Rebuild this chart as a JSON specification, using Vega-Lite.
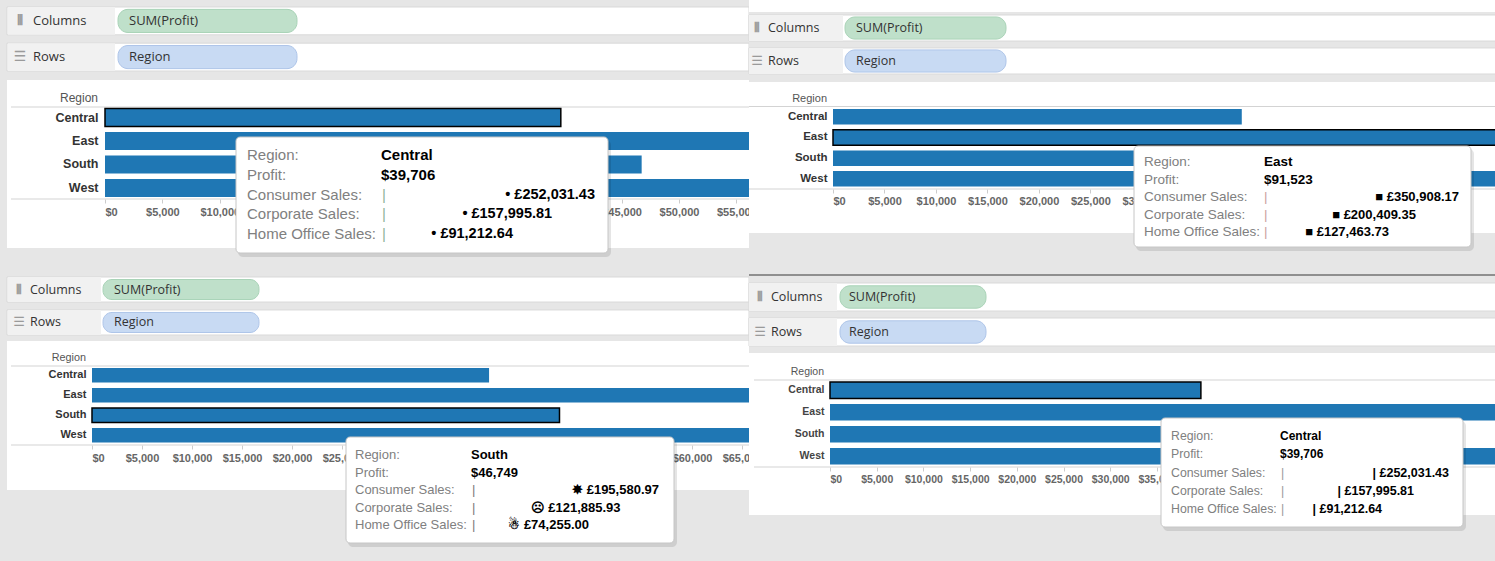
{
"$schema": "https://vega.github.io/schema/vega-lite/v6.json",
"background": "#e6e6e6",
"padding": {"left": 6, "right": 0, "top": 0, "bottom": 0},
"config": {"view": {"stroke": null}, "concat": {"spacing": 0}},
"datasets": {
 "profit": [
  {"region": "Central", "profit": 39706.36},
  {"region": "East", "profit": 91522.78},
  {"region": "South", "profit": 46749.43},
  {"region": "West", "profit": 108418.45}
 ],
 "shelves": [
  {"shelf": "Columns", "pill": "SUM(Profit)", "icon": "⦀"},
  {"shelf": "Rows", "pill": "Region", "icon": "☰"}
 ],
 "tips": [
  {"panel": 1, "label": "Region:", "value": "Central"},
  {"panel": 1, "label": "Profit:", "value": "$39,706"},
  {"panel": 1, "label": "Consumer Sales:", "sales": 252031.43, "text": "• £252,031.43"},
  {"panel": 1, "label": "Corporate Sales:", "sales": 157995.81, "text": "• £157,995.81"},
  {"panel": 1, "label": "Home Office Sales:", "sales": 91212.64, "text": "• £91,212.64"},
  {"panel": 2, "label": "Region:", "value": "East"},
  {"panel": 2, "label": "Profit:", "value": "$91,523"},
  {"panel": 2, "label": "Consumer Sales:", "sales": 350908.17, "text": "■ £350,908.17"},
  {"panel": 2, "label": "Corporate Sales:", "sales": 200409.35, "text": "■ £200,409.35"},
  {"panel": 2, "label": "Home Office Sales:", "sales": 127463.73, "text": "■ £127,463.73"},
  {"panel": 3, "label": "Region:", "value": "South"},
  {"panel": 3, "label": "Profit:", "value": "$46,749"},
  {"panel": 3, "label": "Consumer Sales:", "sales": 195580.97, "text": "✸ £195,580.97"},
  {"panel": 3, "label": "Corporate Sales:", "sales": 121885.93, "text": "☹ £121,885.93"},
  {"panel": 3, "label": "Home Office Sales:", "sales": 74255.00, "text": "☃ £74,255.00"},
  {"panel": 4, "label": "Region:", "value": "Central"},
  {"panel": 4, "label": "Profit:", "value": "$39,706"},
  {"panel": 4, "label": "Consumer Sales:", "sales": 252031.43, "text": "| £252,031.43"},
  {"panel": 4, "label": "Corporate Sales:", "sales": 157995.81, "text": "| £157,995.81"},
  {"panel": 4, "label": "Home Office Sales:", "sales": 91212.64, "text": "| £91,212.64"}
 ]
},
"columns": 2,
"spacing": 0,
"bounds": "flush",
"concat": [
{
"width": 742, "height": 276,
"view": {"fill": "#ffffff", "stroke": null},
"resolve": {"scale": {"x": "independent", "y": "independent"}},
"layer": [
 {"data": {"values": [{}]}, "layer": [
  {"mark": {"type": "rect", "color": "#e6e6e6"}, "encoding": {
   "x": {"datum": 0, "type": "quantitative", "scale": {"domain": [0, 742], "range": [0, 742], "nice": false, "zero": false}, "axis": null}, "x2": {"datum": 742},
   "y": {"datum": 0, "type": "quantitative", "scale": {"domain": [0, 276], "range": [0, 276], "nice": false, "zero": false}, "axis": null}, "y2": {"datum": 80}}},
  {"mark": {"type": "rect", "color": "#e6e6e6"}, "encoding": {
   "x": {"datum": 0, "type": "quantitative", "scale": {"domain": [0, 742], "range": [0, 742], "nice": false, "zero": false}, "axis": null}, "x2": {"datum": 742},
   "y": {"datum": 248, "type": "quantitative", "scale": {"domain": [0, 276], "range": [0, 276], "nice": false, "zero": false}, "axis": null}, "y2": {"datum": 276}}},
  {"mark": {"type": "rule", "color": "#d3d3d3"}, "encoding": {
   "x": {"datum": 4, "type": "quantitative", "scale": {"domain": [0, 742], "range": [0, 742], "nice": false, "zero": false}, "axis": null}, "x2": {"datum": 742},
   "y": {"datum": 107, "type": "quantitative", "scale": {"domain": [0, 276], "range": [0, 276], "nice": false, "zero": false}, "axis": null}}},
  {"mark": {"type": "rule", "color": "#d3d3d3"}, "encoding": {
   "x": {"datum": 4, "type": "quantitative", "scale": {"domain": [0, 742], "range": [0, 742], "nice": false, "zero": false}, "axis": null}, "x2": {"datum": 742},
   "y": {"datum": 199, "type": "quantitative", "scale": {"domain": [0, 276], "range": [0, 276], "nice": false, "zero": false}, "axis": null}}},
  {"mark": {"type": "text", "text": "Region", "align": "right", "baseline": "middle", "font": "Liberation Sans", "fontSize": 12, "color": "#555555"}, "encoding": {
   "x": {"datum": 91, "type": "quantitative", "scale": {"domain": [0, 742], "range": [0, 742], "nice": false, "zero": false}, "axis": null},
   "y": {"datum": 98, "type": "quantitative", "scale": {"domain": [0, 276], "range": [0, 276], "nice": false, "zero": false}, "axis": null}}}
 ]},
 {"data": {"name": "shelves"},
  "encoding": {"y": {"field": "shelf", "type": "nominal", "scale": {"domain": ["Columns", "Rows"], "range": [7, 71], "paddingInner": 0.23, "paddingOuter": 0}, "axis": null}},
  "layer": [
  {"mark": {"type": "rect", "color": "#ffffff", "stroke": "#d9d9d9", "strokeWidth": 1}, "encoding": {
   "x": {"datum": 0, "type": "quantitative", "scale": {"domain": [0, 742], "range": [0, 742], "nice": false, "zero": false}, "axis": null}, "x2": {"datum": 742}}},
  {"mark": {"type": "rect", "color": "#f1f1f1"}, "encoding": {
   "x": {"datum": 1, "type": "quantitative", "scale": {"domain": [0, 742], "range": [0, 742], "nice": false, "zero": false}, "axis": null}, "x2": {"datum": 108}}},
  {"mark": {"type": "bar", "height": {"band": 0.83}, "cornerRadius": 10, "strokeWidth": 1}, "encoding": {
   "x": {"datum": 111, "type": "quantitative", "scale": {"domain": [0, 742], "range": [0, 742], "nice": false, "zero": false}, "axis": null}, "x2": {"datum": 290},
   "fill": {"field": "shelf", "type": "nominal", "scale": {"domain": ["Columns", "Rows"], "range": ["#bfe0ca", "#c8daf3"]}, "legend": null},
   "stroke": {"field": "shelf", "type": "nominal", "scale": {"domain": ["Columns", "Rows"], "range": ["#a9d3b7", "#aec5e9"]}, "legend": null}}},
  {"mark": {"type": "text", "align": "left", "baseline": "middle", "font": "Open Sans", "fontSize": 13, "color": "#333333"}, "encoding": {
   "x": {"datum": 122, "type": "quantitative", "scale": {"domain": [0, 742], "range": [0, 742], "nice": false, "zero": false}, "axis": null},
   "text": {"field": "pill", "type": "nominal"}}},
  {"mark": {"type": "text", "align": "left", "baseline": "middle", "font": "Open Sans", "fontSize": 13, "color": "#333333"}, "encoding": {
   "x": {"datum": 26, "type": "quantitative", "scale": {"domain": [0, 742], "range": [0, 742], "nice": false, "zero": false}, "axis": null},
   "text": {"field": "shelf", "type": "nominal"}}},
  {"mark": {"type": "text", "align": "center", "baseline": "middle", "font": "DejaVu Sans", "fontSize": 14, "fontWeight": "bold", "color": "#9a9a9a"}, "encoding": {
   "x": {"datum": 13, "type": "quantitative", "scale": {"domain": [0, 742], "range": [0, 742], "nice": false, "zero": false}, "axis": null},
   "text": {"field": "icon", "type": "nominal"}}}
 ]},
 {"data": {"name": "profit"},
  "mark": {"type": "bar", "clip": true, "color": "#1f77b4", "strokeWidth": 1.5},
  "encoding": {
   "y": {"field": "region", "type": "nominal", "scale": {"domain": ["Central", "East", "South", "West"], "range": [108.5, 197], "paddingInner": 0.234, "paddingOuter": 0},
    "axis": {"orient": "left", "offset": -91, "domain": false, "ticks": false, "tickSize": 0, "labelPadding": 0, "title": null, "grid": false, "labelFont": "Liberation Sans", "labelFontSize": 12.5, "labelFontWeight": "bold", "labelColor": "#333333"}},
   "x": {"field": "profit", "type": "quantitative", "scale": {"domain": [0, 56100], "range": [98, 742], "nice": false, "zero": true, "clamp": true},
    "axis": {"orient": "bottom", "offset": -77, "values": [0, 5000, 10000, 45000, 50000, 55000], "format": "$,d", "domain": false, "ticks": true, "tickSize": 4, "tickColor": "#cccccc", "labelPadding": 3, "labelFont": "Liberation Sans", "labelFontSize": 11, "labelFontWeight": "bold", "labelColor": "#666666", "labelFlush": true, "labelOverlap": false, "grid": false, "title": null}},
   "stroke": {"condition": {"test": "datum.region === 'Central'", "value": "#000000"}, "value": "transparent"}
  }},
 {"data": {"values": [{}]}, "layer": [
  {"mark": {"type": "rect", "color": "#000000", "opacity": 0.1, "cornerRadius": 5}, "encoding": {
   "x": {"datum": 231, "type": "quantitative", "scale": {"domain": [0, 742], "range": [0, 742], "nice": false, "zero": false}, "axis": null}, "x2": {"datum": 604},
   "y": {"datum": 140, "type": "quantitative", "scale": {"domain": [0, 276], "range": [0, 276], "nice": false, "zero": false}, "axis": null}, "y2": {"datum": 257}}},
  {"mark": {"type": "rect", "color": "#ffffff", "stroke": "#c6c6c6", "strokeWidth": 1, "cornerRadius": 4}, "encoding": {
   "x": {"datum": 229, "type": "quantitative", "scale": {"domain": [0, 742], "range": [0, 742], "nice": false, "zero": false}, "axis": null}, "x2": {"datum": 601},
   "y": {"datum": 137, "type": "quantitative", "scale": {"domain": [0, 276], "range": [0, 276], "nice": false, "zero": false}, "axis": null}, "y2": {"datum": 253}}}
 ]},
 {"data": {"name": "tips"}, "transform": [{"filter": "datum.panel === 1"}],
  "encoding": {"y": {"field": "label", "type": "nominal", "scale": {"type": "point", "domain": ["Region:", "Profit:", "Consumer Sales:", "Corporate Sales:", "Home Office Sales:"], "range": [155, 234], "padding": 0}, "axis": null}},
  "layer": [
  {"mark": {"type": "text", "align": "left", "baseline": "middle", "font": "Liberation Sans", "fontSize": 15, "color": "#808080"}, "encoding": {
   "x": {"datum": 240, "type": "quantitative", "scale": {"domain": [0, 742], "range": [0, 742], "nice": false, "zero": false}, "axis": null},
   "text": {"field": "label", "type": "nominal"}}},
  {"transform": [{"filter": "isValid(datum.value)"}], "mark": {"type": "text", "align": "left", "baseline": "middle", "font": "Liberation Sans", "fontSize": 15, "fontWeight": "bold", "color": "#000000"}, "encoding": {
   "x": {"datum": 374, "type": "quantitative", "scale": {"domain": [0, 742], "range": [0, 742], "nice": false, "zero": false}, "axis": null},
   "text": {"field": "value", "type": "nominal"}}},
  {"transform": [{"filter": "isValid(datum.sales)"}], "mark": {"type": "text", "text": "|", "align": "left", "baseline": "middle", "font": "Liberation Sans", "fontSize": 15, "color": "#8fb39a"}, "encoding": {
   "x": {"datum": 375, "type": "quantitative", "scale": {"domain": [0, 742], "range": [0, 742], "nice": false, "zero": false}, "axis": null}}}
 ]},
 {"data": {"name": "tips"}, "transform": [{"filter": "datum.panel === 1 && isValid(datum.sales)"}],
  "mark": {"type": "text", "align": "right", "baseline": "middle", "font": "Liberation Sans", "fontSize": 14.5, "fontWeight": "bold", "color": "#000000"},
  "encoding": {
   "y": {"field": "label", "type": "nominal", "scale": {"type": "point", "domain": ["Region:", "Profit:", "Consumer Sales:", "Corporate Sales:", "Home Office Sales:"], "range": [155, 234], "padding": 0}, "axis": null},
   "x": {"field": "sales", "type": "quantitative", "scale": {"type": "sqrt", "domain": [0, 400000], "range": [382.1, 641.5], "nice": false, "zero": true}, "axis": null},
   "text": {"field": "text", "type": "nominal"}}}
]
},
{
"width": 747, "height": 276,
"view": {"fill": "#ffffff", "stroke": null},
"resolve": {"scale": {"x": "independent", "y": "independent"}},
"layer": [
 {"data": {"values": [{}]}, "layer": [
  {"mark": {"type": "rect", "color": "#e6e6e6"}, "encoding": {
   "x": {"datum": 0, "type": "quantitative", "scale": {"domain": [0, 747], "range": [0, 747], "nice": false, "zero": false}, "axis": null}, "x2": {"datum": 747},
   "y": {"datum": 12, "type": "quantitative", "scale": {"domain": [0, 276], "range": [0, 276], "nice": false, "zero": false}, "axis": null}, "y2": {"datum": 82}}},
  {"mark": {"type": "rect", "color": "#e6e6e6"}, "encoding": {
   "x": {"datum": 0, "type": "quantitative", "scale": {"domain": [0, 747], "range": [0, 747], "nice": false, "zero": false}, "axis": null}, "x2": {"datum": 747},
   "y": {"datum": 233, "type": "quantitative", "scale": {"domain": [0, 276], "range": [0, 276], "nice": false, "zero": false}, "axis": null}, "y2": {"datum": 276}}},
  {"mark": {"type": "rule", "color": "#d3d3d3"}, "encoding": {
   "x": {"datum": 0, "type": "quantitative", "scale": {"domain": [0, 747], "range": [0, 747], "nice": false, "zero": false}, "axis": null}, "x2": {"datum": 747},
   "y": {"datum": 106.5, "type": "quantitative", "scale": {"domain": [0, 276], "range": [0, 276], "nice": false, "zero": false}, "axis": null}}},
  {"mark": {"type": "rule", "color": "#d3d3d3"}, "encoding": {
   "x": {"datum": 0, "type": "quantitative", "scale": {"domain": [0, 747], "range": [0, 747], "nice": false, "zero": false}, "axis": null}, "x2": {"datum": 747},
   "y": {"datum": 189, "type": "quantitative", "scale": {"domain": [0, 276], "range": [0, 276], "nice": false, "zero": false}, "axis": null}}},
  {"mark": {"type": "rule", "color": "#8f8f8f", "strokeWidth": 2}, "encoding": {
   "x": {"datum": 0, "type": "quantitative", "scale": {"domain": [0, 747], "range": [0, 747], "nice": false, "zero": false}, "axis": null}, "x2": {"datum": 747},
   "y": {"datum": 275, "type": "quantitative", "scale": {"domain": [0, 276], "range": [0, 276], "nice": false, "zero": false}, "axis": null}}},
  {"mark": {"type": "text", "text": "Region", "align": "right", "baseline": "middle", "font": "Liberation Sans", "fontSize": 11, "color": "#555555"}, "encoding": {
   "x": {"datum": 78, "type": "quantitative", "scale": {"domain": [0, 747], "range": [0, 747], "nice": false, "zero": false}, "axis": null},
   "y": {"datum": 99, "type": "quantitative", "scale": {"domain": [0, 276], "range": [0, 276], "nice": false, "zero": false}, "axis": null}}}
 ]},
 {"data": {"name": "shelves"},
  "encoding": {"y": {"field": "shelf", "type": "nominal", "scale": {"domain": ["Columns", "Rows"], "range": [15, 74], "paddingInner": 0.21, "paddingOuter": 0}, "axis": null}},
  "layer": [
  {"mark": {"type": "rect", "color": "#ffffff", "stroke": "#d9d9d9", "strokeWidth": 1}, "encoding": {
   "x": {"datum": 0, "type": "quantitative", "scale": {"domain": [0, 747], "range": [0, 747], "nice": false, "zero": false}, "axis": null}, "x2": {"datum": 747}}},
  {"mark": {"type": "rect", "color": "#f1f1f1"}, "encoding": {
   "x": {"datum": 0, "type": "quantitative", "scale": {"domain": [0, 747], "range": [0, 747], "nice": false, "zero": false}, "axis": null}, "x2": {"datum": 94}}},
  {"mark": {"type": "bar", "height": {"band": 0.85}, "cornerRadius": 10, "strokeWidth": 1}, "encoding": {
   "x": {"datum": 96, "type": "quantitative", "scale": {"domain": [0, 747], "range": [0, 747], "nice": false, "zero": false}, "axis": null}, "x2": {"datum": 257},
   "fill": {"field": "shelf", "type": "nominal", "scale": {"domain": ["Columns", "Rows"], "range": ["#bfe0ca", "#c8daf3"]}, "legend": null},
   "stroke": {"field": "shelf", "type": "nominal", "scale": {"domain": ["Columns", "Rows"], "range": ["#a9d3b7", "#aec5e9"]}, "legend": null}}},
  {"mark": {"type": "text", "align": "left", "baseline": "middle", "font": "Open Sans", "fontSize": 12.5, "color": "#333333"}, "encoding": {
   "x": {"datum": 107, "type": "quantitative", "scale": {"domain": [0, 747], "range": [0, 747], "nice": false, "zero": false}, "axis": null},
   "text": {"field": "pill", "type": "nominal"}}},
  {"mark": {"type": "text", "align": "left", "baseline": "middle", "font": "Open Sans", "fontSize": 12.5, "color": "#333333"}, "encoding": {
   "x": {"datum": 19, "type": "quantitative", "scale": {"domain": [0, 747], "range": [0, 747], "nice": false, "zero": false}, "axis": null},
   "text": {"field": "shelf", "type": "nominal"}}},
  {"mark": {"type": "text", "align": "center", "baseline": "middle", "font": "DejaVu Sans", "fontSize": 13, "fontWeight": "bold", "color": "#9a9a9a"}, "encoding": {
   "x": {"datum": 8, "type": "quantitative", "scale": {"domain": [0, 747], "range": [0, 747], "nice": false, "zero": false}, "axis": null},
   "text": {"field": "icon", "type": "nominal"}}}
 ]},
 {"data": {"name": "profit"},
  "mark": {"type": "bar", "clip": true, "color": "#1f77b4", "strokeWidth": 1.5},
  "encoding": {
   "y": {"field": "region", "type": "nominal", "scale": {"domain": ["Central", "East", "South", "West"], "range": [109, 186.6], "paddingInner": 0.25, "paddingOuter": 0},
    "axis": {"orient": "left", "offset": -78, "domain": false, "ticks": false, "tickSize": 0, "labelPadding": 0, "title": null, "grid": false, "labelFont": "Liberation Sans", "labelFontSize": 11.5, "labelFontWeight": "bold", "labelColor": "#333333"}},
   "x": {"field": "profit", "type": "quantitative", "scale": {"domain": [0, 64400], "range": [84, 747], "nice": false, "zero": true, "clamp": true},
    "axis": {"orient": "bottom", "offset": -87, "values": [0, 5000, 10000, 15000, 20000, 25000, 30000], "format": "$,d", "domain": false, "ticks": true, "tickSize": 4, "tickColor": "#cccccc", "labelPadding": 2, "labelFont": "Liberation Sans", "labelFontSize": 11, "labelFontWeight": "bold", "labelColor": "#666666", "labelFlush": true, "labelOverlap": false, "grid": false, "title": null}},
   "stroke": {"condition": {"test": "datum.region === 'East'", "value": "#000000"}, "value": "transparent"}
  }},
 {"data": {"values": [{}]}, "layer": [
  {"mark": {"type": "rect", "color": "#000000", "opacity": 0.1, "cornerRadius": 5}, "encoding": {
   "x": {"datum": 387, "type": "quantitative", "scale": {"domain": [0, 747], "range": [0, 747], "nice": false, "zero": false}, "axis": null}, "x2": {"datum": 725},
   "y": {"datum": 149, "type": "quantitative", "scale": {"domain": [0, 276], "range": [0, 276], "nice": false, "zero": false}, "axis": null}, "y2": {"datum": 251}}},
  {"mark": {"type": "rect", "color": "#ffffff", "stroke": "#c6c6c6", "strokeWidth": 1, "cornerRadius": 4}, "encoding": {
   "x": {"datum": 385, "type": "quantitative", "scale": {"domain": [0, 747], "range": [0, 747], "nice": false, "zero": false}, "axis": null}, "x2": {"datum": 722},
   "y": {"datum": 146, "type": "quantitative", "scale": {"domain": [0, 276], "range": [0, 276], "nice": false, "zero": false}, "axis": null}, "y2": {"datum": 247}}}
 ]},
 {"data": {"name": "tips"}, "transform": [{"filter": "datum.panel === 2"}],
  "encoding": {"y": {"field": "label", "type": "nominal", "scale": {"type": "point", "domain": ["Region:", "Profit:", "Consumer Sales:", "Corporate Sales:", "Home Office Sales:"], "range": [162, 232], "padding": 0}, "axis": null}},
  "layer": [
  {"mark": {"type": "text", "align": "left", "baseline": "middle", "font": "Liberation Sans", "fontSize": 13.5, "color": "#808080"}, "encoding": {
   "x": {"datum": 395, "type": "quantitative", "scale": {"domain": [0, 747], "range": [0, 747], "nice": false, "zero": false}, "axis": null},
   "text": {"field": "label", "type": "nominal"}}},
  {"transform": [{"filter": "isValid(datum.value)"}], "mark": {"type": "text", "align": "left", "baseline": "middle", "font": "Liberation Sans", "fontSize": 13.5, "fontWeight": "bold", "color": "#000000"}, "encoding": {
   "x": {"datum": 515, "type": "quantitative", "scale": {"domain": [0, 747], "range": [0, 747], "nice": false, "zero": false}, "axis": null},
   "text": {"field": "value", "type": "nominal"}}},
  {"transform": [{"filter": "isValid(datum.sales)"}], "mark": {"type": "text", "text": "|", "align": "left", "baseline": "middle", "font": "Liberation Sans", "fontSize": 13.5, "color": "#c9a0a0"}, "encoding": {
   "x": {"datum": 515, "type": "quantitative", "scale": {"domain": [0, 747], "range": [0, 747], "nice": false, "zero": false}, "axis": null}}}
 ]},
 {"data": {"name": "tips"}, "transform": [{"filter": "datum.panel === 2 && isValid(datum.sales)"}],
  "mark": {"type": "text", "align": "right", "baseline": "middle", "font": "Liberation Sans", "fontSize": 13, "fontWeight": "bold", "color": "#000000"},
  "encoding": {
   "y": {"field": "label", "type": "nominal", "scale": {"type": "point", "domain": ["Region:", "Profit:", "Consumer Sales:", "Corporate Sales:", "Home Office Sales:"], "range": [162, 232], "padding": 0}, "axis": null},
   "x": {"field": "sales", "type": "quantitative", "scale": {"type": "sqrt", "domain": [0, 400000], "range": [533.8, 721.9], "nice": false, "zero": true}, "axis": null},
   "text": {"field": "text", "type": "nominal"}}}
]
},
{
"width": 742, "height": 285,
"view": {"fill": "#ffffff", "stroke": null},
"resolve": {"scale": {"x": "independent", "y": "independent"}},
"layer": [
 {"data": {"values": [{}]}, "layer": [
  {"mark": {"type": "rect", "color": "#e6e6e6"}, "encoding": {
   "x": {"datum": 0, "type": "quantitative", "scale": {"domain": [0, 742], "range": [0, 742], "nice": false, "zero": false}, "axis": null}, "x2": {"datum": 742},
   "y": {"datum": 0, "type": "quantitative", "scale": {"domain": [0, 285], "range": [0, 285], "nice": false, "zero": false}, "axis": null}, "y2": {"datum": 65}}},
  {"mark": {"type": "rect", "color": "#e6e6e6"}, "encoding": {
   "x": {"datum": 0, "type": "quantitative", "scale": {"domain": [0, 742], "range": [0, 742], "nice": false, "zero": false}, "axis": null}, "x2": {"datum": 742},
   "y": {"datum": 214, "type": "quantitative", "scale": {"domain": [0, 285], "range": [0, 285], "nice": false, "zero": false}, "axis": null}, "y2": {"datum": 285}}},
  {"mark": {"type": "rule", "color": "#d3d3d3"}, "encoding": {
   "x": {"datum": 4, "type": "quantitative", "scale": {"domain": [0, 742], "range": [0, 742], "nice": false, "zero": false}, "axis": null}, "x2": {"datum": 742},
   "y": {"datum": 90, "type": "quantitative", "scale": {"domain": [0, 285], "range": [0, 285], "nice": false, "zero": false}, "axis": null}}},
  {"mark": {"type": "rule", "color": "#d3d3d3"}, "encoding": {
   "x": {"datum": 4, "type": "quantitative", "scale": {"domain": [0, 742], "range": [0, 742], "nice": false, "zero": false}, "axis": null}, "x2": {"datum": 742},
   "y": {"datum": 169, "type": "quantitative", "scale": {"domain": [0, 285], "range": [0, 285], "nice": false, "zero": false}, "axis": null}}},
  {"mark": {"type": "text", "text": "Region", "align": "right", "baseline": "middle", "font": "Liberation Sans", "fontSize": 10.8, "color": "#555555"}, "encoding": {
   "x": {"datum": 79, "type": "quantitative", "scale": {"domain": [0, 742], "range": [0, 742], "nice": false, "zero": false}, "axis": null},
   "y": {"datum": 82, "type": "quantitative", "scale": {"domain": [0, 285], "range": [0, 285], "nice": false, "zero": false}, "axis": null}}}
 ]},
 {"data": {"name": "shelves"},
  "encoding": {"y": {"field": "shelf", "type": "nominal", "scale": {"domain": ["Columns", "Rows"], "range": [1, 59], "paddingInner": 0.24, "paddingOuter": 0}, "axis": null}},
  "layer": [
  {"mark": {"type": "rect", "color": "#ffffff", "stroke": "#d9d9d9", "strokeWidth": 1}, "encoding": {
   "x": {"datum": 0, "type": "quantitative", "scale": {"domain": [0, 742], "range": [0, 742], "nice": false, "zero": false}, "axis": null}, "x2": {"datum": 742}}},
  {"mark": {"type": "rect", "color": "#f1f1f1"}, "encoding": {
   "x": {"datum": 1, "type": "quantitative", "scale": {"domain": [0, 742], "range": [0, 742], "nice": false, "zero": false}, "axis": null}, "x2": {"datum": 94}}},
  {"mark": {"type": "bar", "height": {"band": 0.8}, "cornerRadius": 9, "strokeWidth": 1}, "encoding": {
   "x": {"datum": 96, "type": "quantitative", "scale": {"domain": [0, 742], "range": [0, 742], "nice": false, "zero": false}, "axis": null}, "x2": {"datum": 252},
   "fill": {"field": "shelf", "type": "nominal", "scale": {"domain": ["Columns", "Rows"], "range": ["#bfe0ca", "#c8daf3"]}, "legend": null},
   "stroke": {"field": "shelf", "type": "nominal", "scale": {"domain": ["Columns", "Rows"], "range": ["#a9d3b7", "#aec5e9"]}, "legend": null}}},
  {"mark": {"type": "text", "align": "left", "baseline": "middle", "font": "Open Sans", "fontSize": 12.5, "color": "#333333"}, "encoding": {
   "x": {"datum": 107, "type": "quantitative", "scale": {"domain": [0, 742], "range": [0, 742], "nice": false, "zero": false}, "axis": null},
   "text": {"field": "pill", "type": "nominal"}}},
  {"mark": {"type": "text", "align": "left", "baseline": "middle", "font": "Open Sans", "fontSize": 12.5, "color": "#333333"}, "encoding": {
   "x": {"datum": 23, "type": "quantitative", "scale": {"domain": [0, 742], "range": [0, 742], "nice": false, "zero": false}, "axis": null},
   "text": {"field": "shelf", "type": "nominal"}}},
  {"mark": {"type": "text", "align": "center", "baseline": "middle", "font": "DejaVu Sans", "fontSize": 13, "fontWeight": "bold", "color": "#9a9a9a"}, "encoding": {
   "x": {"datum": 12, "type": "quantitative", "scale": {"domain": [0, 742], "range": [0, 742], "nice": false, "zero": false}, "axis": null},
   "text": {"field": "icon", "type": "nominal"}}}
 ]},
 {"data": {"name": "profit"},
  "mark": {"type": "bar", "clip": true, "color": "#1f77b4", "strokeWidth": 1.5},
  "encoding": {
   "y": {"field": "region", "type": "nominal", "scale": {"domain": ["Central", "East", "South", "West"], "range": [92, 166.5], "paddingInner": 0.275, "paddingOuter": 0},
    "axis": {"orient": "left", "offset": -79, "domain": false, "ticks": false, "tickSize": 0, "labelPadding": 0, "title": null, "grid": false, "labelFont": "Liberation Sans", "labelFontSize": 11, "labelFontWeight": "bold", "labelColor": "#333333"}},
   "x": {"field": "profit", "type": "quantitative", "scale": {"domain": [0, 65700], "range": [85, 742], "nice": false, "zero": true, "clamp": true},
    "axis": {"orient": "bottom", "offset": -116, "values": [0, 5000, 10000, 15000, 20000, 25000, 60000, 65000], "format": "$,d", "domain": false, "ticks": true, "tickSize": 4, "tickColor": "#cccccc", "labelPadding": 3, "labelFont": "Liberation Sans", "labelFontSize": 11, "labelFontWeight": "bold", "labelColor": "#666666", "labelFlush": true, "labelOverlap": false, "grid": false, "title": null}},
   "stroke": {"condition": {"test": "datum.region === 'South'", "value": "#000000"}, "value": "transparent"}
  }},
 {"data": {"values": [{}]}, "layer": [
  {"mark": {"type": "rect", "color": "#000000", "opacity": 0.1, "cornerRadius": 5}, "encoding": {
   "x": {"datum": 341, "type": "quantitative", "scale": {"domain": [0, 742], "range": [0, 742], "nice": false, "zero": false}, "axis": null}, "x2": {"datum": 670},
   "y": {"datum": 164, "type": "quantitative", "scale": {"domain": [0, 285], "range": [0, 285], "nice": false, "zero": false}, "axis": null}, "y2": {"datum": 271}}},
  {"mark": {"type": "rect", "color": "#ffffff", "stroke": "#c6c6c6", "strokeWidth": 1, "cornerRadius": 4}, "encoding": {
   "x": {"datum": 339, "type": "quantitative", "scale": {"domain": [0, 742], "range": [0, 742], "nice": false, "zero": false}, "axis": null}, "x2": {"datum": 667},
   "y": {"datum": 161, "type": "quantitative", "scale": {"domain": [0, 285], "range": [0, 285], "nice": false, "zero": false}, "axis": null}, "y2": {"datum": 267}}}
 ]},
 {"data": {"name": "tips"}, "transform": [{"filter": "datum.panel === 3"}],
  "encoding": {"y": {"field": "label", "type": "nominal", "scale": {"type": "point", "domain": ["Region:", "Profit:", "Consumer Sales:", "Corporate Sales:", "Home Office Sales:"], "range": [179, 249], "padding": 0}, "axis": null}},
  "layer": [
  {"mark": {"type": "text", "align": "left", "baseline": "middle", "font": "Liberation Sans", "fontSize": 13, "color": "#808080"}, "encoding": {
   "x": {"datum": 348, "type": "quantitative", "scale": {"domain": [0, 742], "range": [0, 742], "nice": false, "zero": false}, "axis": null},
   "text": {"field": "label", "type": "nominal"}}},
  {"transform": [{"filter": "isValid(datum.value)"}], "mark": {"type": "text", "align": "left", "baseline": "middle", "font": "Liberation Sans", "fontSize": 13, "fontWeight": "bold", "color": "#000000"}, "encoding": {
   "x": {"datum": 464, "type": "quantitative", "scale": {"domain": [0, 742], "range": [0, 742], "nice": false, "zero": false}, "axis": null},
   "text": {"field": "value", "type": "nominal"}}},
  {"transform": [{"filter": "isValid(datum.sales)"}], "mark": {"type": "text", "text": "|", "align": "left", "baseline": "middle", "font": "Liberation Sans", "fontSize": 13, "color": "#7a7a7a"}, "encoding": {
   "x": {"datum": 465, "type": "quantitative", "scale": {"domain": [0, 742], "range": [0, 742], "nice": false, "zero": false}, "axis": null}}}
 ]},
 {"data": {"name": "tips"}, "transform": [{"filter": "datum.panel === 3 && isValid(datum.sales)"}],
  "mark": {"type": "text", "align": "right", "baseline": "middle", "font": "Liberation Sans", "fontSize": 13, "fontWeight": "bold", "color": "#000000"},
  "encoding": {
   "y": {"field": "label", "type": "nominal", "scale": {"type": "point", "domain": ["Region:", "Profit:", "Consumer Sales:", "Corporate Sales:", "Home Office Sales:"], "range": [179, 249], "padding": 0}, "axis": null},
   "x": {"field": "sales", "type": "quantitative", "scale": {"type": "sqrt", "domain": [0, 400000], "range": [469.6, 730.4], "nice": false, "zero": true}, "axis": null},
   "text": {"field": "text", "type": "nominal"}}}
]
},
{
"width": 747, "height": 285,
"view": {"fill": "#ffffff", "stroke": null},
"resolve": {"scale": {"x": "independent", "y": "independent"}},
"layer": [
 {"data": {"values": [{}]}, "layer": [
  {"mark": {"type": "rect", "color": "#e6e6e6"}, "encoding": {
   "x": {"datum": 0, "type": "quantitative", "scale": {"domain": [0, 747], "range": [0, 747], "nice": false, "zero": false}, "axis": null}, "x2": {"datum": 747},
   "y": {"datum": 0, "type": "quantitative", "scale": {"domain": [0, 285], "range": [0, 285], "nice": false, "zero": false}, "axis": null}, "y2": {"datum": 77}}},
  {"mark": {"type": "rect", "color": "#e6e6e6"}, "encoding": {
   "x": {"datum": 0, "type": "quantitative", "scale": {"domain": [0, 747], "range": [0, 747], "nice": false, "zero": false}, "axis": null}, "x2": {"datum": 747},
   "y": {"datum": 239, "type": "quantitative", "scale": {"domain": [0, 285], "range": [0, 285], "nice": false, "zero": false}, "axis": null}, "y2": {"datum": 285}}},
  {"mark": {"type": "rule", "color": "#d3d3d3"}, "encoding": {
   "x": {"datum": 5, "type": "quantitative", "scale": {"domain": [0, 747], "range": [0, 747], "nice": false, "zero": false}, "axis": null}, "x2": {"datum": 747},
   "y": {"datum": 104, "type": "quantitative", "scale": {"domain": [0, 285], "range": [0, 285], "nice": false, "zero": false}, "axis": null}}},
  {"mark": {"type": "rule", "color": "#d3d3d3"}, "encoding": {
   "x": {"datum": 5, "type": "quantitative", "scale": {"domain": [0, 747], "range": [0, 747], "nice": false, "zero": false}, "axis": null}, "x2": {"datum": 747},
   "y": {"datum": 191, "type": "quantitative", "scale": {"domain": [0, 285], "range": [0, 285], "nice": false, "zero": false}, "axis": null}}},
  {"mark": {"type": "text", "text": "Region", "align": "right", "baseline": "middle", "font": "Liberation Sans", "fontSize": 10.5, "color": "#555555"}, "encoding": {
   "x": {"datum": 75, "type": "quantitative", "scale": {"domain": [0, 747], "range": [0, 747], "nice": false, "zero": false}, "axis": null},
   "y": {"datum": 96, "type": "quantitative", "scale": {"domain": [0, 285], "range": [0, 285], "nice": false, "zero": false}, "axis": null}}}
 ]},
 {"data": {"name": "shelves"},
  "encoding": {"y": {"field": "shelf", "type": "nominal", "scale": {"domain": ["Columns", "Rows"], "range": [7, 70], "paddingInner": 0.2, "paddingOuter": 0}, "axis": null}},
  "layer": [
  {"mark": {"type": "rect", "color": "#ffffff", "stroke": "#d9d9d9", "strokeWidth": 1}, "encoding": {
   "x": {"datum": 0, "type": "quantitative", "scale": {"domain": [0, 747], "range": [0, 747], "nice": false, "zero": false}, "axis": null}, "x2": {"datum": 747}}},
  {"mark": {"type": "rect", "color": "#f1f1f1"}, "encoding": {
   "x": {"datum": 0, "type": "quantitative", "scale": {"domain": [0, 747], "range": [0, 747], "nice": false, "zero": false}, "axis": null}, "x2": {"datum": 88}}},
  {"mark": {"type": "bar", "height": {"band": 0.8}, "cornerRadius": 10, "strokeWidth": 1}, "encoding": {
   "x": {"datum": 91, "type": "quantitative", "scale": {"domain": [0, 747], "range": [0, 747], "nice": false, "zero": false}, "axis": null}, "x2": {"datum": 237},
   "fill": {"field": "shelf", "type": "nominal", "scale": {"domain": ["Columns", "Rows"], "range": ["#bfe0ca", "#c8daf3"]}, "legend": null},
   "stroke": {"field": "shelf", "type": "nominal", "scale": {"domain": ["Columns", "Rows"], "range": ["#a9d3b7", "#aec5e9"]}, "legend": null}}},
  {"mark": {"type": "text", "align": "left", "baseline": "middle", "font": "Open Sans", "fontSize": 12.5, "color": "#333333"}, "encoding": {
   "x": {"datum": 100, "type": "quantitative", "scale": {"domain": [0, 747], "range": [0, 747], "nice": false, "zero": false}, "axis": null},
   "text": {"field": "pill", "type": "nominal"}}},
  {"mark": {"type": "text", "align": "left", "baseline": "middle", "font": "Open Sans", "fontSize": 12.5, "color": "#333333"}, "encoding": {
   "x": {"datum": 22, "type": "quantitative", "scale": {"domain": [0, 747], "range": [0, 747], "nice": false, "zero": false}, "axis": null},
   "text": {"field": "shelf", "type": "nominal"}}},
  {"mark": {"type": "text", "align": "center", "baseline": "middle", "font": "DejaVu Sans", "fontSize": 13, "fontWeight": "bold", "color": "#9a9a9a"}, "encoding": {
   "x": {"datum": 11, "type": "quantitative", "scale": {"domain": [0, 747], "range": [0, 747], "nice": false, "zero": false}, "axis": null},
   "text": {"field": "icon", "type": "nominal"}}}
 ]},
 {"data": {"name": "profit"},
  "mark": {"type": "bar", "clip": true, "color": "#1f77b4", "strokeWidth": 1.5},
  "encoding": {
   "y": {"field": "region", "type": "nominal", "scale": {"domain": ["Central", "East", "South", "West"], "range": [106, 188.5], "paddingInner": 0.25, "paddingOuter": 0},
    "axis": {"orient": "left", "offset": -75, "domain": false, "ticks": false, "tickSize": 0, "labelPadding": 0, "title": null, "grid": false, "labelFont": "Liberation Sans", "labelFontSize": 10.5, "labelFontWeight": "bold", "labelColor": "#444444"}},
   "x": {"field": "profit", "type": "quantitative", "scale": {"domain": [0, 71300], "range": [81, 747], "nice": false, "zero": true, "clamp": true},
    "axis": {"orient": "bottom", "offset": -94, "values": [0, 5000, 10000, 15000, 20000, 25000, 30000, 35000], "format": "$,d", "domain": false, "ticks": true, "tickSize": 4, "tickColor": "#cccccc", "labelPadding": 3, "labelFont": "Liberation Sans", "labelFontSize": 10.5, "labelFontWeight": "bold", "labelColor": "#666666", "labelFlush": true, "labelOverlap": false, "grid": false, "title": null}},
   "stroke": {"condition": {"test": "datum.region === 'Central'", "value": "#000000"}, "value": "transparent"}
  }},
 {"data": {"values": [{}]}, "layer": [
  {"mark": {"type": "rect", "color": "#000000", "opacity": 0.1, "cornerRadius": 5}, "encoding": {
   "x": {"datum": 414, "type": "quantitative", "scale": {"domain": [0, 747], "range": [0, 747], "nice": false, "zero": false}, "axis": null}, "x2": {"datum": 717},
   "y": {"datum": 145, "type": "quantitative", "scale": {"domain": [0, 285], "range": [0, 285], "nice": false, "zero": false}, "axis": null}, "y2": {"datum": 255}}},
  {"mark": {"type": "rect", "color": "#ffffff", "stroke": "#c6c6c6", "strokeWidth": 1, "cornerRadius": 4}, "encoding": {
   "x": {"datum": 412, "type": "quantitative", "scale": {"domain": [0, 747], "range": [0, 747], "nice": false, "zero": false}, "axis": null}, "x2": {"datum": 714},
   "y": {"datum": 142, "type": "quantitative", "scale": {"domain": [0, 285], "range": [0, 285], "nice": false, "zero": false}, "axis": null}, "y2": {"datum": 251}}}
 ]},
 {"data": {"name": "tips"}, "transform": [{"filter": "datum.panel === 4"}],
  "encoding": {"y": {"field": "label", "type": "nominal", "scale": {"type": "point", "domain": ["Region:", "Profit:", "Consumer Sales:", "Corporate Sales:", "Home Office Sales:"], "range": [160, 233], "padding": 0}, "axis": null}},
  "layer": [
  {"mark": {"type": "text", "align": "left", "baseline": "middle", "font": "Liberation Sans", "fontSize": 12.3, "color": "#808080"}, "encoding": {
   "x": {"datum": 422, "type": "quantitative", "scale": {"domain": [0, 747], "range": [0, 747], "nice": false, "zero": false}, "axis": null},
   "text": {"field": "label", "type": "nominal"}}},
  {"transform": [{"filter": "isValid(datum.value)"}], "mark": {"type": "text", "align": "left", "baseline": "middle", "font": "Liberation Sans", "fontSize": 12, "fontWeight": "bold", "color": "#000000"}, "encoding": {
   "x": {"datum": 531, "type": "quantitative", "scale": {"domain": [0, 747], "range": [0, 747], "nice": false, "zero": false}, "axis": null},
   "text": {"field": "value", "type": "nominal"}}},
  {"transform": [{"filter": "isValid(datum.sales)"}], "mark": {"type": "text", "text": "|", "align": "left", "baseline": "middle", "font": "Liberation Sans", "fontSize": 12.3, "color": "#999999"}, "encoding": {
   "x": {"datum": 532, "type": "quantitative", "scale": {"domain": [0, 747], "range": [0, 747], "nice": false, "zero": false}, "axis": null}}}
 ]},
 {"data": {"name": "tips"}, "transform": [{"filter": "datum.panel === 4 && isValid(datum.sales)"}],
  "mark": {"type": "text", "align": "right", "baseline": "middle", "font": "Liberation Sans", "fontSize": 12.5, "fontWeight": "bold", "color": "#000000"},
  "encoding": {
   "y": {"field": "label", "type": "nominal", "scale": {"type": "point", "domain": ["Region:", "Profit:", "Consumer Sales:", "Corporate Sales:", "Home Office Sales:"], "range": [160, 233], "padding": 0}, "axis": null},
   "x": {"field": "sales", "type": "quantitative", "scale": {"type": "sqrt", "domain": [0, 400000], "range": [531.9, 743.7], "nice": false, "zero": true}, "axis": null},
   "text": {"field": "text", "type": "nominal"}}}
]
}
]
}
